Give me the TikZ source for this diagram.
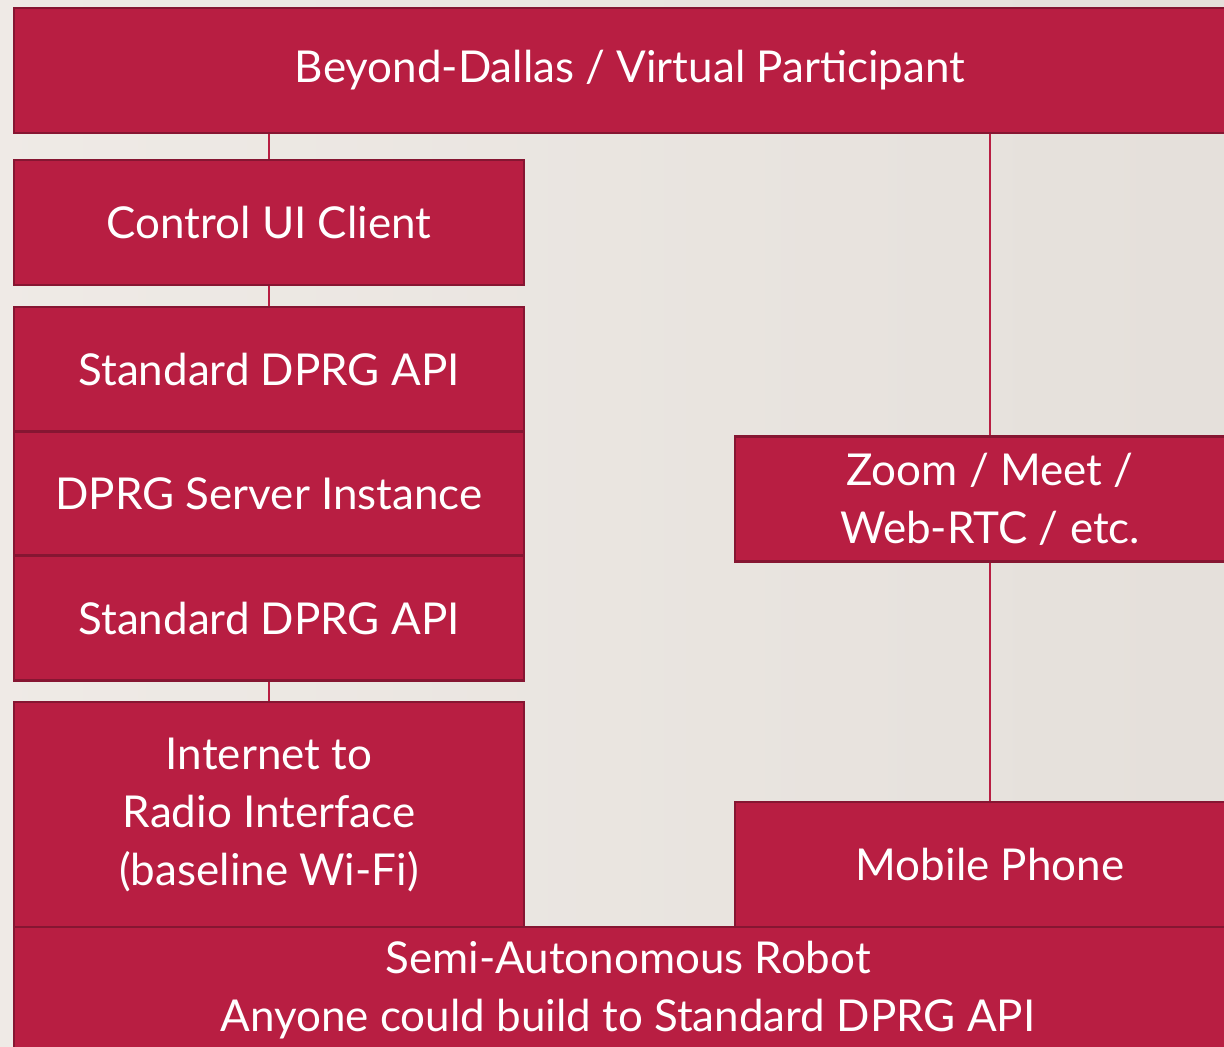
\documentclass[tikz,border=0pt]{standalone}
\usepackage{fontspec}
\setmainfont{Lato}
\usepackage{tikz}
\usepackage{xcolor}
\definecolor{dprgred}{HTML}{B81E42}
\definecolor{dprgedge}{HTML}{861632}
\tikzstyle{layer} = [rectangle, draw=dprgedge, line width=1.5pt, fill=dprgred, text=white, inner sep=0pt, align=center, minimum width=10.2cm, minimum height=2.5cm, font=\fontsize{25}{33}\selectfont]
\tikzstyle{link} = [draw=dprgred, line width=1.1pt]

\begin{document}
\begin{tikzpicture}
  \useasboundingbox (0,0) rectangle (24.48,-20.94);
  \shade[left color=gray!10!white!93!brown, right color=gray!18!white!92!brown] (0,0) rectangle (24.48,-20.94);
  \clip (0,0) rectangle (24.48,-20.94);

  \node[layer, minimum width=24.64cm] (VP) at (12.6,-1.41) {Beyond-Dallas / Virtual Participant};
  \node[layer] (UI) at (5.38,-4.45) {Control UI Client};
  \node[layer] (API1) at (5.38,-7.39) {Standard DPRG API};
  \node[layer] (Srv) at (5.38,-9.88) {DPRG Server Instance};
  \node[layer] (API2) at (5.38,-12.36) {Standard DPRG API};
  \node[layer, minimum height=4.5cm] (Radio) at (5.38,-16.29) {Internet to\\Radio Interface\\(baseline Wi-Fi)};
  \node[layer] (Zoom) at (19.8,-9.98) {Zoom / Meet /\\Web-RTC / etc.};
  \node[layer] (Phone) at (19.8,-17.29) {Mobile Phone};
  \node[layer, minimum width=24.56cm, minimum height=2.52cm] (Robot) at (12.56,-19.8) {Semi-Autonomous Robot\\Anyone could build to Standard DPRG API};

  \path[link] (UI.north) -- (UI.north |- VP.south);
  \path[link] (UI) -- (API1);
  \path[link] (API2) -- (Radio);
  \path[link] (Zoom.north) -- (Zoom.north |- VP.south);
  \path[link] (Zoom) -- (Phone);
\end{tikzpicture}
\end{document}
